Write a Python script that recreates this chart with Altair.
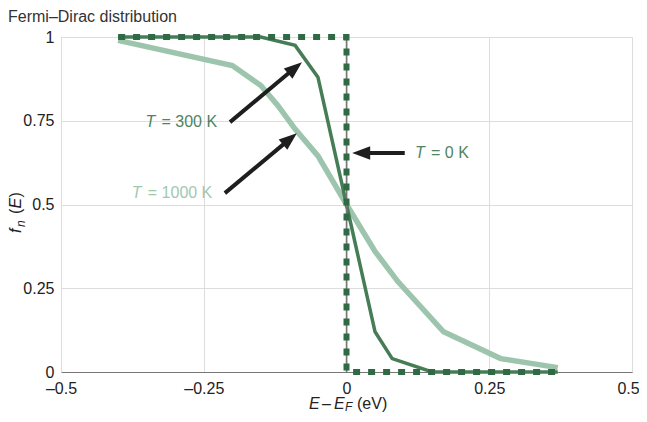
import math
import altair as alt
import pandas as pd

# ---------------- data ----------------
E_T0 = [-0.40, 0.0, 0.0, 0.37]
F_T0 = [1.0, 1.0, 0.0, 0.0]

E_T300 = [-0.40, -0.15, -0.09, -0.05, 0.0, 0.05, 0.08, 0.15, 0.37]
F_T300 = [1.0, 1.0, 0.975, 0.88, 0.5, 0.12, 0.04, 0.0, 0.0]

E_T1000 = [-0.40, -0.20, -0.15, -0.12, -0.09, -0.05, 0.0, 0.05, 0.09, 0.17, 0.27, 0.37]
F_T1000 = [0.99, 0.915, 0.855, 0.795, 0.725, 0.645, 0.5, 0.36, 0.27, 0.12, 0.04, 0.013]

X_TICKS = [-0.5, -0.25, 0, 0.25, 0.5]
Y_TICKS = [0, 0.25, 0.5, 0.75, 1]

# annotation arrows (tail -> tip, data coordinates)
ARROW_TAIL_E = [-0.204, -0.213, 0.102]
ARROW_TAIL_F = [0.746, 0.534, 0.654]
ARROW_TIP_E = [-0.078, -0.087, 0.010]
ARROW_TIP_F = [0.925, 0.713, 0.654]

# annotation labels
LABEL_T_E = [-0.352, -0.376, 0.120]
LABEL_REST_E = [-0.324, -0.348, 0.148]
LABEL_F = [0.746, 0.534, 0.654]
LABEL_REST = ["= 300 K", "= 1000 K", "= 0 K"]
LABEL_COLORS = ["#4f8462", "#a3c7b1", "#4f8462"]

C_T0 = "#2f6a44"
C_T300 = "#467d57"
C_T1000 = "#9dc5ad"
FONT = "Liberation Sans"
FS = 16

W, H = 571, 335

xs = alt.Scale(domain=[-0.5, 0.5], nice=False, zero=False)
ys = alt.Scale(domain=[0, 1], nice=False, zero=False)

LABEL_EXPR = "replace(datum.value + '', '-', '\u2013')"

xaxis = alt.Axis(values=X_TICKS, labelExpr=LABEL_EXPR, title=None, grid=True, ticks=False,
                 domainColor="#777", domainWidth=1.2, labelFontSize=FS, labelColor="#222",
                 labelPadding=8, gridColor="#dddddd", labelFlush=False, labelFont=FONT,
                 labelOffset={"condition": {"test": "datum.value == 0.5", "value": -4}, "value": 0})
yaxis = alt.Axis(values=Y_TICKS, labelExpr=LABEL_EXPR, title=None, grid=True, ticks=False,
                 domainColor="#dddddd", labelFontSize=FS, labelColor="#222",
                 labelPadding=7, gridColor="#dddddd", labelFlush=False, labelFont=FONT)


def curve(E, F, color, width, dash=None):
    df = pd.DataFrame({"E": E, "f": F, "o": list(range(len(E)))})
    kw = dict(color=color, strokeWidth=width, strokeCap="butt", strokeJoin="miter")
    if dash:
        kw["strokeDash"] = dash
    return alt.Chart(df).mark_line(**kw).encode(
        x=alt.X("E:Q", scale=xs, axis=xaxis),
        y=alt.Y("f:Q", scale=ys, axis=yaxis),
        order="o:Q",
    )


l1000 = curve(E_T1000, F_T1000, C_T1000, 5.5)
l300 = curve(E_T300, F_T300, C_T300, 3.5)
zero_rule = alt.Chart(pd.DataFrame({"E": [0.0], "f": [0.0], "f2": [1.0]})).mark_rule(
    color="#777", strokeWidth=1.5).encode(
    x=alt.X("E:Q", scale=xs), y=alt.Y("f:Q", scale=ys), y2="f2:Q")
l0 = curve(E_T0, F_T0, C_T0, 6, dash=[7, 8])

# arrows
rows = []
HEAD = 18
for te, tf, he, hf in zip(ARROW_TAIL_E, ARROW_TAIL_F, ARROW_TIP_E, ARROW_TIP_F):
    dx = (he - te) * W
    dy = -(hf - tf) * H
    L = math.hypot(dx, dy)
    ang = math.degrees(math.atan2(dx, -dy)) % 360
    back = HEAD - 4
    se = he - (dx / L) * back / W
    sf = hf + (dy / L) * back / H
    rows.append({"te": te, "tf": tf, "se": se, "sf": sf, "he": he, "hf": hf, "ang": ang})
adf = pd.DataFrame(rows)

shafts = alt.Chart(adf).mark_rule(color="#1e1e1e", strokeWidth=4, strokeCap="butt").encode(
    x=alt.X("te:Q", scale=xs), y=alt.Y("tf:Q", scale=ys), x2="se:Q", y2="sf:Q")
heads = alt.Chart(adf).mark_point(
    shape="M0,0L0.75,2L-0.75,2Z", filled=True, opacity=1, color="#1e1e1e",
    size=(HEAD / 2) ** 2 * 4, strokeWidth=0).encode(
    x=alt.X("he:Q", scale=xs), y=alt.Y("hf:Q", scale=ys),
    angle=alt.Angle("ang:Q", scale=None))

ldf = pd.DataFrame({"te": LABEL_T_E, "re": LABEL_REST_E, "f": LABEL_F,
                    "rest": LABEL_REST, "c": LABEL_COLORS})
lab_T = alt.Chart(ldf).mark_text(text="T", fontStyle="italic", font=FONT, fontSize=FS,
                                 align="left", baseline="middle").encode(
    x=alt.X("te:Q", scale=xs), y=alt.Y("f:Q", scale=ys), color=alt.Color("c:N", scale=None))
lab_R = alt.Chart(ldf).mark_text(font=FONT, fontSize=FS, align="left", baseline="middle").encode(
    x=alt.X("re:Q", scale=xs), y=alt.Y("f:Q", scale=ys), text="rest:N",
    color=alt.Color("c:N", scale=None))

ONE = pd.DataFrame({"a": [0]})
OX, OY = 61, 37  # page position of plot origin


def ptext(txt, px, py, size=FS, style="normal", angle=0, color="#222", align="left"):
    return alt.Chart(ONE).mark_text(text=txt, font=FONT, fontSize=size, fontStyle=style,
                                    angle=angle, align=align, baseline="alphabetic",
                                    color=color).encode(
        x=alt.value(px - OX), y=alt.value(py - OY))


title = ptext("Fermi\u2013Dirac distribution", 8, 22, color="#333")
xt = [
    ptext("E", 309, 409, style="italic"),
    ptext("\u2013", 322, 409),
    ptext("E", 334, 409, style="italic"),
    ptext("F", 345, 411, size=12, style="italic"),
    ptext("(eV)", 357, 409),
]
yt = [
    ptext("f", 21, 233, style="italic", angle=270),
    ptext("n", 25, 227, size=12, style="italic", angle=270),
    ptext("(", 21, 214, angle=270),
    ptext("E", 21, 208.5, style="italic", angle=270),
    ptext(")", 21, 197.5, angle=270),
]

chart = alt.layer(l1000, l300, zero_rule, l0, shafts, heads, lab_T, lab_R, title, *xt, *yt).properties(
    width=W, height=H, autosize="none",
    padding={"left": OX - 8, "top": OY - 8, "right": 7, "bottom": 42},
).configure_view(stroke=None).configure(font=FONT)

chart.save("out.html", embed_options={"renderer": "svg", "actions": False})
